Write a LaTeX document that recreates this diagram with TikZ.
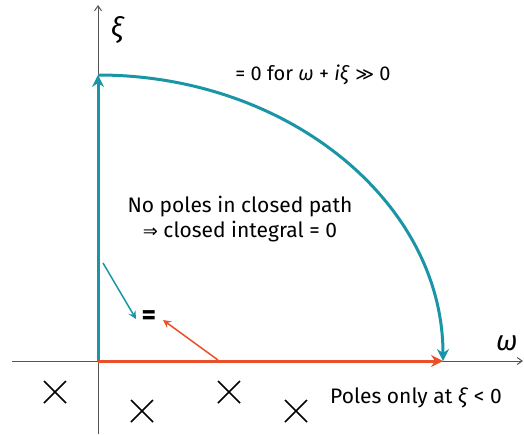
\documentclass[tikz,border=0pt]{standalone}
\usepackage{fontspec}
\setmainfont{Fira Sans}
\newfontfamily\dejavu{DejaVu Sans}
\usetikzlibrary{arrows.meta,calc}
\definecolor{tealc}{HTML}{1A95A6}
\definecolor{redc}{HTML}{E8502A}
\definecolor{axisc}{HTML}{555555}
\tikzset{
  axis/.style={draw=axisc, line width=1pt, -{Straight Barb[length=5pt,width=7pt]}},
  path teal/.style={draw=tealc, line width=3pt, -{Stealth[length=12pt,width=12pt,inset=4pt]}},
  path red/.style={draw=redc, line width=3pt, -{Stealth[length=12pt,width=12pt,inset=4pt]}},
  thin teal/.style={draw=tealc, line width=1.5pt, -{Stealth[length=8pt,width=8pt,inset=3pt]}},
  thin red/.style={draw=redc, line width=1.5pt, -{Stealth[length=8pt,width=8pt,inset=3pt]}},
  lbl/.style={font=\fontsize{21}{25}\selectfont, inner sep=0pt, align=center},
  pole/.style={draw=black, line width=1.5pt},
}
\begin{document}
\begin{tikzpicture}[x=1pt,y=-1pt]
\useasboundingbox (0,0) rectangle (524,434);
\coordinate (O) at (98,361);
\coordinate (yb) at (98,434);
\coordinate (yt) at (98,5);
\coordinate (xl) at (12,361);
\coordinate (xr) at (523,361);
\coordinate (top) at (98,75);
\coordinate (right) at (443,361);
\draw[axis] (yb) -- (yt);
\draw[axis] (xl) -- (xr);
\node[lbl, font=\fontsize{28}{30}\selectfont\itshape] (xi) at (117,30) {ξ};
\node[lbl, font=\fontsize{28}{30}\selectfont\itshape] (om) at (507,343) {ω};
% contour
\draw[path teal] (O) -- (top);
\draw[path teal] (top) arc[start angle=90, end angle=0, x radius=345, y radius=-286];
\draw[path red] (O) -- (right);
% labels
\node[lbl, font=\fontsize{20}{23}\selectfont] (inf) at (313,75) {= 0 for \textit{ω} + \textit{iξ} {\dejavu\fontsize{18}{20}\selectfont ≫} 0};
\node[lbl] (np) at (240,219) {No poles in closed path\\{\dejavu\fontsize{18}{20}\selectfont ⇒} closed integral = 0};
\node[lbl, font=\fontsize{28}{30}\selectfont\bfseries] (eq) at (149,318) {=};
\coordinate (ts) at (103,263);
\coordinate (rs) at (218,360);
\draw[thin teal] (ts) -- ($(eq.center)+(-13,1)$);
\draw[thin red] (rs) -- ($(eq.center)+(14,2)$);
\node[lbl] (pl) at (416,398) {Poles only at \textit{ξ} < 0};
% poles
\foreach \n/\px/\py in {a/55/392, b/142/411, c/229/392, d/296/411}{
  \coordinate (p\n) at (\px,\py);
  \draw[pole] ($(p\n)+(-11,-11)$) -- ($(p\n)+(11,11)$);
  \draw[pole] ($(p\n)+(-11,11)$) -- ($(p\n)+(11,-11)$);
}
\end{tikzpicture}
\end{document}
